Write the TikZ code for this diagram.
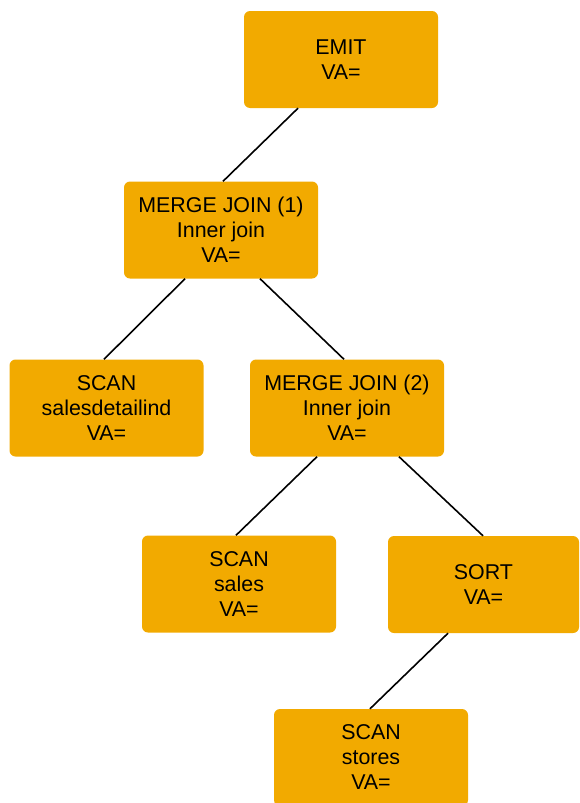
\documentclass[tikz,border=0pt]{standalone}
\usepackage{fontspec}
\setmainfont{Liberation Sans}
\definecolor{boxorange}{RGB}{242,170,0}
\begin{document}
\begin{tikzpicture}[x=1pt,y=-1pt,
  opbox/.style={fill=boxorange, draw=none, rounded corners=6pt, minimum width=194pt, minimum height=97pt, align=center, inner sep=2pt, font=\fontsize{21.4}{25}\selectfont},
  link/.style={draw=black, line width=1.6pt}]
\useasboundingbox (0,0) rectangle (579,803);
\node[opbox] (emit) at (341,59.5) {EMIT\\VA=};
\node[opbox] (mj1) at (221,230) {MERGE JOIN (1)\\Inner join\\VA=};
\node[opbox] (scan1) at (106.5,408) {SCAN\\salesdetailind\\VA=};
\node[opbox] (mj2) at (347,408) {MERGE JOIN (2)\\Inner join\\VA=};
\node[opbox] (scan2) at (239,584) {SCAN\\sales\\VA=};
\node[opbox, minimum width=191pt] (sort) at (483.5,584.5) {SORT\\VA=};
\node[opbox] (scan3) at (371,757.5) {SCAN\\stores\\VA=};
\draw[link] ([xshift=-43pt]emit.south) -- ([xshift=2pt]mj1.north);
\draw[link] ([xshift=-36pt]mj1.south) -- ([xshift=-2.5pt]scan1.north);
\draw[link] ([xshift=39pt]mj1.south) -- ([xshift=-3pt]mj2.north);
\draw[link] ([xshift=-30pt]mj2.south) -- ([xshift=-3pt]scan2.north);
\draw[link] ([xshift=52pt]mj2.south) -- ([xshift=-0.5pt]sort.north);
\draw[link] ([xshift=-35.5pt]sort.south) -- ([xshift=-1pt]scan3.north);
\end{tikzpicture}
\end{document}
